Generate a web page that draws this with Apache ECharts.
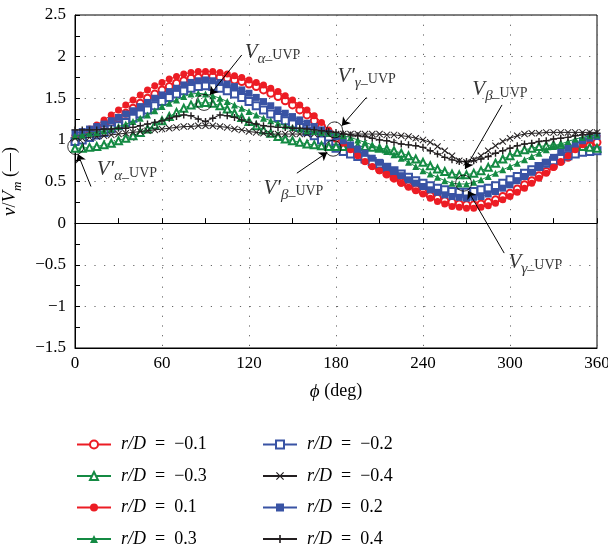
<!DOCTYPE html>
<html>
<head>
<meta charset="utf-8">
<script src="https://cdn.jsdelivr.net/npm/echarts@6/dist/echarts.min.js"></script>
<style>html,body{margin:0;padding:0;background:#fff}#c{width:608px;height:551px}</style>
</head>
<body>
<div id="c"></div>
<script>
// ---- data ----
const phi = [0,5,10,15,20,25,30,35,40,45,50,55,60,65,70,75,80,85,90,95,100,105,110,115,120,125,130,135,140,145,150,155,160,165,170,175,180,185,190,195,200,205,210,215,220,225,230,235,240,245,250,255,260,265,270,275,280,285,290,295,300,305,310,315,320,325,330,335,340,345,350,355,360];

const rdNeg01 = [0.98,1.02,1.06,1.11,1.16,1.21,1.26,1.32,1.38,1.44,1.50,1.55,1.60,1.64,1.68,1.71,1.74,1.75,1.76,1.76,1.75,1.74,1.72,1.70,1.67,1.64,1.60,1.56,1.52,1.47,1.42,1.36,1.30,1.23,1.16,1.09,1.02,0.95,0.88,0.81,0.75,0.69,0.64,0.59,0.54,0.49,0.45,0.41,0.37,0.33,0.30,0.27,0.25,0.23,0.22,0.22,0.23,0.25,0.28,0.32,0.36,0.41,0.46,0.51,0.57,0.62,0.68,0.74,0.79,0.84,0.89,0.93,0.97];
const rdNeg02 = [0.98,1.00,1.03,1.06,1.09,1.13,1.17,1.21,1.26,1.31,1.36,1.41,1.46,1.51,1.55,1.59,1.62,1.64,1.65,1.64,1.62,1.59,1.55,1.51,1.46,1.41,1.36,1.31,1.27,1.23,1.19,1.15,1.10,1.05,1.00,0.95,0.90,0.86,0.83,0.80,0.77,0.74,0.71,0.67,0.63,0.59,0.55,0.51,0.48,0.45,0.42,0.40,0.38,0.37,0.37,0.38,0.40,0.42,0.45,0.48,0.52,0.56,0.60,0.64,0.68,0.72,0.75,0.78,0.81,0.83,0.85,0.86,0.87];
const rdNeg03 = [0.90,0.90,0.91,0.92,0.94,0.96,0.99,1.02,1.05,1.09,1.13,1.18,1.23,1.28,1.33,1.38,1.42,1.44,1.45,1.44,1.41,1.37,1.32,1.27,1.22,1.17,1.12,1.08,1.04,1.01,0.99,0.97,0.95,0.94,0.93,0.92,0.92,0.92,0.92,0.92,0.92,0.91,0.90,0.89,0.87,0.84,0.81,0.77,0.73,0.69,0.65,0.62,0.59,0.58,0.58,0.60,0.63,0.67,0.72,0.77,0.81,0.85,0.88,0.90,0.92,0.93,0.94,0.94,0.94,0.93,0.92,0.91,0.90];
const rdNeg04 = [1.02,1.02,1.03,1.04,1.05,1.06,1.07,1.08,1.09,1.10,1.11,1.12,1.13,1.14,1.15,1.16,1.16,1.17,1.17,1.17,1.16,1.15,1.13,1.12,1.10,1.09,1.08,1.07,1.07,1.07,1.07,1.07,1.07,1.07,1.07,1.07,1.07,1.07,1.07,1.07,1.07,1.07,1.07,1.06,1.06,1.05,1.04,1.02,1.00,0.97,0.92,0.87,0.81,0.75,0.73,0.76,0.81,0.87,0.93,0.98,1.02,1.05,1.07,1.08,1.08,1.09,1.09,1.09,1.09,1.09,1.09,1.09,1.09];
const rdPos01 = [1.05,1.09,1.13,1.18,1.24,1.30,1.36,1.42,1.48,1.54,1.60,1.65,1.69,1.73,1.76,1.79,1.81,1.82,1.82,1.82,1.81,1.79,1.77,1.75,1.72,1.69,1.66,1.62,1.58,1.53,1.48,1.42,1.36,1.29,1.21,1.12,1.04,0.96,0.88,0.81,0.74,0.68,0.63,0.59,0.54,0.48,0.43,0.39,0.35,0.30,0.26,0.23,0.20,0.19,0.18,0.18,0.19,0.21,0.24,0.28,0.32,0.37,0.42,0.48,0.54,0.60,0.67,0.74,0.81,0.88,0.94,1.00,1.04];
const rdPos02 = [1.08,1.10,1.13,1.16,1.19,1.23,1.27,1.31,1.35,1.40,1.45,1.50,1.54,1.58,1.62,1.66,1.69,1.71,1.72,1.71,1.69,1.67,1.64,1.60,1.56,1.51,1.46,1.41,1.36,1.32,1.28,1.24,1.20,1.16,1.12,1.08,1.04,0.99,0.94,0.89,0.84,0.78,0.73,0.67,0.62,0.57,0.52,0.48,0.44,0.40,0.37,0.34,0.32,0.31,0.30,0.31,0.32,0.35,0.38,0.42,0.46,0.51,0.56,0.61,0.67,0.73,0.79,0.85,0.90,0.95,0.99,1.02,1.04];
const rdPos03 = [1.05,1.06,1.08,1.09,1.11,1.13,1.16,1.19,1.22,1.26,1.30,1.35,1.40,1.44,1.48,1.52,1.55,1.56,1.55,1.53,1.50,1.46,1.42,1.38,1.34,1.30,1.26,1.23,1.20,1.17,1.15,1.13,1.11,1.10,1.09,1.08,1.07,1.05,1.03,1.00,0.97,0.94,0.90,0.86,0.82,0.78,0.73,0.68,0.63,0.59,0.55,0.51,0.48,0.47,0.47,0.49,0.52,0.56,0.60,0.64,0.68,0.72,0.76,0.80,0.84,0.88,0.92,0.95,0.98,1.01,1.03,1.05,1.06];
const rdPos04 = [1.12,1.12,1.12,1.12,1.13,1.13,1.14,1.14,1.15,1.17,1.19,1.21,1.23,1.26,1.28,1.30,1.29,1.25,1.22,1.26,1.30,1.29,1.27,1.24,1.21,1.19,1.17,1.16,1.15,1.15,1.14,1.14,1.13,1.12,1.11,1.10,1.09,1.07,1.06,1.05,1.04,1.02,1.00,0.99,0.97,0.95,0.94,0.93,0.91,0.87,0.83,0.79,0.76,0.74,0.74,0.75,0.77,0.80,0.84,0.87,0.90,0.93,0.95,0.96,0.98,0.99,1.01,1.02,1.03,1.05,1.06,1.07,1.08];

const seriesLabels = ['\u22120.1','\u22120.2','\u22120.3','\u22120.4','0.1','0.2','0.3','0.4'];
const xTickLabels = [0,60,120,180,240,300,360];

// annotation anchors (data coordinates)
const annoCircles = [[0.5,0.92],[89,1.45],[179,1.12],[178,0.90],[268,0.48]];
const annoArrows = [
  [[115,2.02],[93,1.54]],
  [[11,0.44],[2,0.83]],
  [[201,1.51],[184,1.17]],
  [[153,0.60],[174,0.85]],
  [[294.5,1.42],[269,0.65]],
  [[296,-0.36],[271,0.39]]
];
const annoTexts = [
  {pos:[117,2.05], v:'V', s:'\u03b1'},
  {pos:[15,0.64], v:'V\u2032', s:'\u03b1'},
  {pos:[181,1.76], v:'V\u2032', s:'\u03b3'},
  {pos:[130,0.42], v:'V\u2032', s:'\u03b2'},
  {pos:[274,1.60], v:'V', s:'\u03b2'},
  {pos:[299,-0.47], v:'V', s:'\u03b3'}
];

// ---- chart ----
const SERIF = '"Liberation Serif","DejaVu Serif",serif';
const RED = '#ec1c24', BLUE = '#3953a4', GREEN = '#148a43', BLACK = '#231f20';
const plusPath = 'path://M4,0H6V4H10V6H6V10H4V6H0V4H4Z';
const crossPath = 'path://M0,1L1,0L5,4L9,0L10,1L6,5L10,9L9,10L5,6L1,10L0,9L4,5Z';

const styles = [
  {c:RED, sym:'emptyCircle'},
  {c:BLUE, sym:'emptyRect'},
  {c:GREEN, sym:'emptyTriangle'},
  {c:BLACK, sym:crossPath},
  {c:RED, sym:'circle'},
  {c:BLUE, sym:'rect'},
  {c:GREEN, sym:'triangle'},
  {c:BLACK, sym:plusPath}
];
const values = [rdNeg01, rdNeg02, rdNeg03, rdNeg04, rdPos01, rdPos02, rdPos03, rdPos04];
const names = seriesLabels.map(l => 'r/D = ' + l);

const lineSeries = values.map((vals, i) => ({
  type: 'line',
  name: names[i],
  data: phi.map((p, k) => [p, vals[k]]),
  symbol: styles[i].sym,
  symbolSize: 7,
  showAllSymbol: true,
  color: styles[i].c,
  itemStyle: {color: styles[i].c},
  lineStyle: {color: styles[i].c, width: 1},
  animation: false,
  z: 2 + i
}));

const fmt = n => '{i|r/D}\u2002=\u2002' + n.split('= ')[1];
const legendCommon = {
  orient: 'vertical', itemWidth: 34, itemHeight: 10, itemGap: 10.5, height: 160,
  selectedMode: false, formatter: fmt, padding: 0,
  textStyle: {fontFamily: SERIF, fontSize: 18, color: '#000', padding: [0,0,0,5], lineHeight: 21,
    rich: {i: {fontFamily: SERIF, fontStyle: 'italic', fontSize: 18, color: '#000', lineHeight: 21}}}
};

const option = {
  backgroundColor: '#fff',
  animation: false,
  grid: {left: 75, right: 11, top: 15, height: 333, containLabel: false, outerBoundsMode: 'none',
    show: true, borderColor: '#000', borderWidth: 1, backgroundColor: 'transparent'},
  xAxis: [
    {
      type: 'value', min: 0, max: 360, interval: 60, position: 'bottom',
      axisLine: {onZero: false, lineStyle: {color: '#000'}},
      axisTick: {show: false},
      axisLabel: {fontFamily: SERIF, fontSize: 17, color: '#000', margin: 7,
        formatter: v => xTickLabels.indexOf(v) >= 0 ? String(v) : ''},
      splitLine: {show: true, lineStyle: {color: '#666', type: [1.2, 8.5], width: 1}},
      name: '{p|\u03d5} (deg)', nameLocation: 'middle', nameGap: 34,
      nameTextStyle: {fontFamily: SERIF, fontSize: 18, color: '#000',
        rich: {p: {fontFamily: SERIF, fontStyle: 'italic', fontSize: 19, color: '#000'}}}
    },
    {
      type: 'value', min: 0, max: 360, interval: 30, position: 'bottom',
      axisLine: {show: true, onZero: true, onZeroAxisIndex: 0, lineStyle: {color: '#000', width: 1}},
      axisTick: {show: true, inside: true, length: 5, lineStyle: {color: '#000'}},
      axisLabel: {show: false},
      splitLine: {show: false}
    }
  ],
  yAxis: {
    type: 'value', min: -1.5, max: 2.5, interval: 0.5,
    axisLine: {show: true, onZero: false, lineStyle: {color: '#000'}},
    axisTick: {show: true, inside: true, length: 5, lineStyle: {color: '#000'}},
    minorTick: {show: true, splitNumber: 2, length: 5, lineStyle: {color: '#000'}},
    axisLabel: {fontFamily: SERIF, fontSize: 17, color: '#000', margin: 9,
      formatter: v => v < 0 ? '\u2212' + Math.abs(v) : String(v)},
    splitLine: {show: true, lineStyle: {color: '#666', type: [1.2, 8.5], width: 1}},
    name: '{i|v}/{i|V}{s|m} (\u2014)', nameLocation: 'middle', nameGap: 46,
    nameTextStyle: {fontFamily: SERIF, fontSize: 18, color: '#000', lineHeight: 24,
      rich: {
        i: {fontFamily: SERIF, fontStyle: 'italic', fontSize: 19, color: '#000', lineHeight: 24},
        s: {fontFamily: SERIF, fontStyle: 'italic', fontSize: 13, color: '#000', lineHeight: 24, verticalAlign: 'bottom', padding: [0,0,-2,0]}
      }}
  },
  legend: [
    Object.assign({left: 76, top: 434, data: [names[0], names[2], names[4], names[6]]}, legendCommon),
    Object.assign({left: 262, top: 434, data: [names[1], names[3], names[5], names[7]]}, legendCommon)
  ],
  series: lineSeries.concat([
    {
      type: 'scatter', name: 'circles', data: annoCircles, symbol: 'circle', symbolSize: 16,
      itemStyle: {color: 'rgba(0,0,0,0)', borderColor: '#000', borderWidth: 1}, z: 20, silent: true, clip: false
    },
    {
      type: 'lines', name: 'arrows', coordinateSystem: 'cartesian2d', polyline: false,
      data: annoArrows.map(a => ({coords: a})),
      symbol: ['none', 'arrow'], symbolSize: 8,
      lineStyle: {color: '#000', width: 1, opacity: 1}, z: 21, silent: true
    },
    {
      type: 'scatter', name: 'labels', symbolSize: 0, z: 22, silent: true, clip: false,
      data: annoTexts.map(t => ({value: t.pos, v: t.v, s: t.s})),
      label: {
        show: true, position: 'right', distance: 0,
        formatter: p => '{v|' + p.data.v + '}{s|' + p.data.s + '}{u|_UVP}',
        rich: {
          v: {fontFamily: SERIF, fontStyle: 'italic', fontSize: 21, color: '#000', lineHeight: 26},
          s: {fontFamily: SERIF, fontStyle: 'italic', fontSize: 15, color: '#000', lineHeight: 26, verticalAlign: 'bottom', padding: [0,0,-1,0]},
          u: {fontFamily: SERIF, fontSize: 14, color: '#000', lineHeight: 26, verticalAlign: 'bottom', padding: [0,0,3,0]}
        }
      }
    }
  ])
};

const chart = echarts.init(document.getElementById('c'), null, {renderer: 'canvas'});
chart.setOption(option);
</script>
</body>
</html>
